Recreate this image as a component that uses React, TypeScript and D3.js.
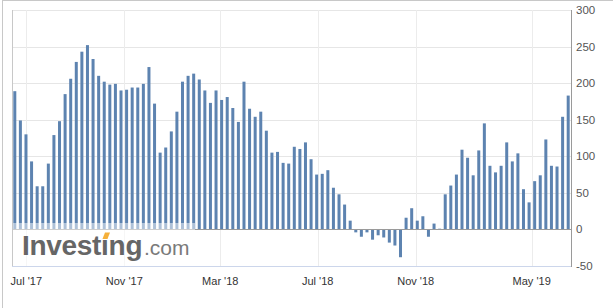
import React from "react";
import * as d3 from "d3";

const values: number[] = [
  189, 149, 130, 93, 59, 59, 90, 129, 148, 185,
  206, 229, 243, 252, 233, 210, 202, 198, 199, 190,
  191, 194, 194, 199, 222, 172, 105, 112, 134, 161,
  202, 210, 213, 205, 190, 173, 190, 177, 181, 166,
  147, 202, 165, 154, 161, 135, 105, 106, 91, 90,
  113, 110, 119, 96, 75, 76, 81, 57, 48, 34,
  12, -4, -10, -4, -14, -8, -11, -18, -22, -38,
  16, 29, 12, 18, -10, 8, 1, 48, 60, 75,
  109, 98, 74, 108, 145, 87, 78, 87, 119, 93,
  104, 55, 37, 66, 74, 123, 87, 86, 154, 183,
];

const xTickLabels: string[] = ["Jul '17", "Nov '17", "Mar '18", "Jul '18", "Nov '18", "May '19"];
const xTickIndex: number[] = [2.06, 19.59, 36.76, 54.19, 71.72, 92.47];
const yTicks: number[] = [300, 250, 200, 150, 100, 50, 0, -50];

const W = 613;
const H = 308;
const left = 12;
const right = 571;
const top = 10;
const bottom = 266;
const barColor = "#5d83b0";
const font = "'Liberation Sans', Arial, sans-serif";

export default function App() {
  const x = d3.scaleLinear().domain([-0.5, values.length - 0.5]).range([left, right]);
  const y = d3.scaleLinear().domain([-50, 300]).range([bottom, top]);
  const barW = 3;

  return (
    <svg
      width={W}
      height={H}
      style={{ position: "absolute", left: 0, top: 0, background: "#fff" }}
      fontFamily={font}
    >
      <rect x={0} y={0} width={W} height={H} fill="#fff" />
      {/* outer frame */}
      <line x1={2} x2={W} y1={0.5} y2={0.5} stroke="#c8c8c8" />
      <line x1={2.5} x2={2.5} y1={0} y2={H} stroke="#c8c8c8" />

      {/* horizontal grid */}
      {yTicks.map((t) => (
        <line
          key={"g" + t}
          x1={left}
          x2={right}
          y1={Math.round(y(t)) + 0.5}
          y2={Math.round(y(t)) + 0.5}
          stroke="#e6e6e6"
        />
      ))}
      {/* vertical grid */}
      {xTickIndex.map((t, i) => (
        <line
          key={"v" + i}
          x1={Math.round(x(t)) + 0.5}
          x2={Math.round(x(t)) + 0.5}
          y1={top}
          y2={bottom}
          stroke="#ececec"
        />
      ))}

      {/* bars */}
      {values.map((v, i) => {
        const y0 = y(0);
        const y1 = y(v);
        return (
          <rect
            key={i}
            x={x(i) - barW / 2}
            y={Math.min(y0, y1)}
            width={barW}
            height={Math.abs(y1 - y0)}
            fill={barColor}
          />
        );
      })}

      {/* zero line */}
      <line x1={left} x2={right} y1={Math.round(y(0)) + 0.5} y2={Math.round(y(0)) + 0.5} stroke="#9a9a9a" />

      {/* axes lines */}
      <line x1={left + 0.5} x2={left + 0.5} y1={top} y2={bottom} stroke="#c8c8c8" />
      <line x1={left} x2={right} y1={bottom + 0.5} y2={bottom + 0.5} stroke="#ccd6eb" />
      <line x1={right + 0.5} x2={right + 0.5} y1={top} y2={bottom + 1} stroke="#9a9a9a" />

      {/* watermark */}
      <rect x={left + 1} y={223} width={182} height={bottom - 223} fill="#fff" opacity={0.5} />
      <g>
        <text x={22} y={255} fontSize={28} fontWeight="bold" fill="#666" letterSpacing={-0.3}>
          Investing
        </text>
        <text x={144} y={255} fontSize={21} fill="#7a7a7a">
          .com
        </text>
        <rect x={100} y={231} width={9} height={8} fill="#fff" />
        <polygon points="102.5,239 107.5,239 110,232.5 105,232.5" fill="#f5b03a" />
      </g>

      {/* x labels */}
      {xTickLabels.map((l, i) => (
        <text key={"xl" + i} x={x(xTickIndex[i])} y={285} fontSize={11} fill="#333" textAnchor="middle">
          {l}
        </text>
      ))}
      {/* y labels */}
      {yTicks.map((t) => (
        <text key={"yl" + t} x={576} y={y(t) + 4} fontSize={11.5} fill="#555">
          {t}
        </text>
      ))}
    </svg>
  );
}
